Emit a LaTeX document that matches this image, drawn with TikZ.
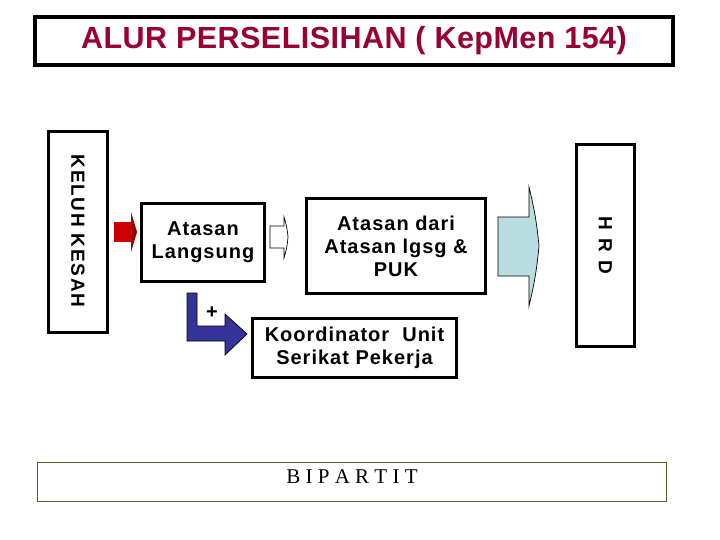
\documentclass[tikz,border=0pt]{standalone}
\usepackage{fontspec}
\setmainfont{Liberation Sans}
\newfontfamily\serifb{Liberation Serif}
\definecolor{titlered}{RGB}{153,0,51}
\definecolor{arrred}{RGB}{204,0,0}
\definecolor{arrreddk}{RGB}{150,0,0}
\definecolor{arrcyan}{RGB}{184,222,226}
\definecolor{arrblue}{RGB}{51,51,153}
\definecolor{olivegr}{RGB}{79,98,40}
\begin{document}
\begin{tikzpicture}[x=1pt,y=-1pt,
  boxthick/.style={draw=black,line width=3pt,fill=white,inner sep=0pt,align=center},
  lbl/.style={font=\fontsize{20}{23}\selectfont\bfseries\addfontfeatures{LetterSpace=5}},
  arrowshape/.style={draw=black,line width=0.7pt,line join=miter}]
\useasboundingbox (0,0) rectangle (720,540);
\fill[white] (0,0) rectangle (720,540);
% title
\node[draw=black,line width=4.5pt,minimum width=638pt,minimum height=48pt,inner sep=0pt,
      text=titlered,font=\fontsize{30.5}{34}\selectfont\bfseries\addfontfeatures{LetterSpace=1.5}] (title) at (354,41) {ALUR PERSELISIHAN ( KepMen 154)};
% keluh kesah
\node[boxthick,minimum width=59pt,minimum height=201pt] (keluh) at (78,232) {};
\node[rotate=-90,font=\fontsize{19}{22}\selectfont\bfseries\addfontfeatures{LetterSpace=9}] (keluhtxt) at (78,231) {KELUH KESAH};
% hrd
\node[boxthick,minimum width=58pt,minimum height=202pt] (hrd) at (605.5,245.5) {};
\node[rotate=-90,font=\fontsize{19}{22}\selectfont\bfseries\addfontfeatures{LetterSpace=14}] (hrdtxt) at (hrd.center) {H R D};
% boxes
\node[boxthick,lbl,minimum width=123pt,minimum height=78pt] (al) at (203,242.5) {Atasan\\Langsung};
\node[boxthick,lbl,minimum width=179pt,minimum height=95pt] (ad) at (396,246) {Atasan dari\\Atasan lgsg \&\\PUK};
\node[boxthick,lbl,minimum width=204pt,minimum height=59pt] (kor) at (354.5,348) {Koordinator\ \ Unit\\Serikat Pekerja};
% bipartit
\node[draw=olivegr,line width=1.5pt,minimum width=629pt,minimum height=39pt,inner sep=0pt] (bip) at (352,482) {};
\node[font=\serifb\fontsize{21}{24}\selectfont] (biptxt) at (352,477) {B I P A R T I T};
% red arrow
\fill[arrred] (114,222) -- (132,222) -- (132,242) -- (114,242) -- cycle;
\fill[arrreddk] (131,212) -- (137,232) -- (131,252) -- (131,242) -- (132,242) -- (132,222) -- (131,222) -- cycle;
% white arrow
\draw[arrowshape,fill=white] (270,226) -- (284,226) -- (284,217) to[bend left=6] (288,237) to[bend left=6] (284,258) -- (284,248) -- (270,248) -- cycle;
% cyan arrow
\draw[arrowshape,fill=arrcyan] (498,217) -- (529,217) -- (529,187) to[bend left=4] (539,246) to[bend left=4] (529,306) -- (529,276) -- (498,276) -- cycle;
% blue L arrow
\draw[arrowshape,fill=arrblue] (187,293) -- (197,293) -- (197,326) -- (225,326) -- (225,314) -- (247,334) -- (225,355) -- (225,341) -- (187,341) -- cycle;
\node[font=\fontsize{20}{23}\selectfont\bfseries] (plus) at (212,313) {+};
\end{tikzpicture}
\end{document}
